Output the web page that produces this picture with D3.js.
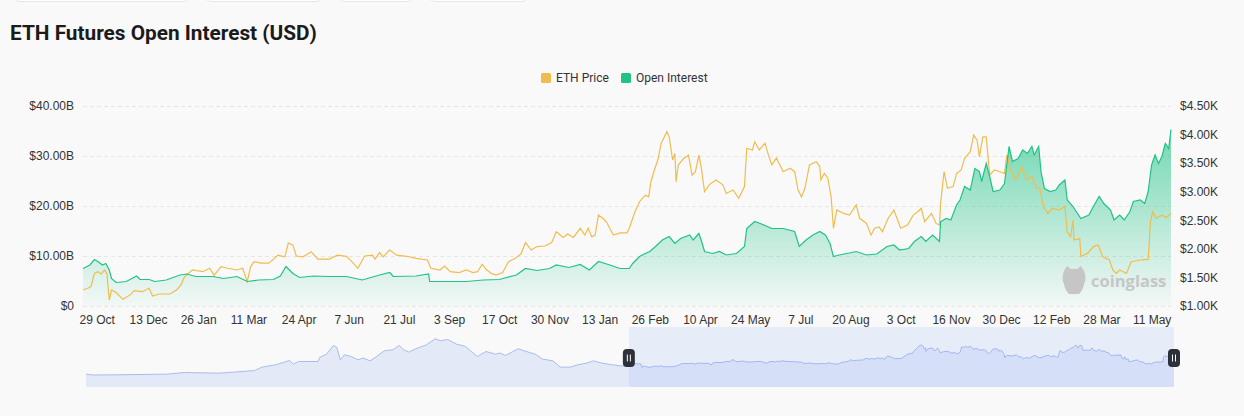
<!DOCTYPE html>
<html>
<head>
<meta charset="utf-8">
<script src="https://cdn.jsdelivr.net/npm/d3@7"></script>
<style>
  html, body { margin: 0; padding: 0; background: #f9f9f9; }
  svg { display: block; font-family: Roboto, "Noto Sans", sans-serif; }
</style>
</head>
<body>
<div id="chart"></div>
<script>
// ETH price (USD)
const ethPrice = [
  ["2022-10-17",1280],["2022-10-21",1310],["2022-10-24",1340],["2022-10-27",1570],["2022-10-30",1600],
  ["2022-11-02",1560],["2022-11-05",1630],["2022-11-07",1560],["2022-11-09",1105],["2022-11-11",1280],
  ["2022-11-15",1235],["2022-11-21",1117],["2022-11-27",1190],["2022-12-01",1270],["2022-12-08",1250],
  ["2022-12-14",1310],["2022-12-17",1175],["2022-12-23",1210],["2023-01-01",1210],["2023-01-07",1280],
  ["2023-01-11",1370],["2023-01-14",1510],["2023-01-18",1580],["2023-01-21",1630],["2023-01-30",1600],
  ["2023-02-05",1660],["2023-02-09",1540],["2023-02-15",1690],["2023-02-21",1660],["2023-03-01",1630],
  ["2023-03-06",1660],["2023-03-10",1425],["2023-03-13",1690],["2023-03-16",1775],["2023-03-22",1750],
  ["2023-03-29",1750],["2023-04-06",1890],["2023-04-12",1860],["2023-04-15",2100],["2023-04-19",2070],
  ["2023-04-22",1875],["2023-04-28",1860],["2023-05-05",1950],["2023-05-11",1820],["2023-05-21",1820],
  ["2023-05-28",1890],["2023-06-05",1870],["2023-06-11",1750],["2023-06-15",1660],["2023-06-21",1875],
  ["2023-06-28",1890],["2023-06-30",1820],["2023-07-04",1935],["2023-07-07",1860],["2023-07-13",1980],
  ["2023-07-19",1890],["2023-07-28",1870],["2023-08-05",1835],["2023-08-15",1805],["2023-08-18",1660],
  ["2023-08-26",1630],["2023-08-30",1700],["2023-09-04",1600],["2023-09-12",1585],["2023-09-18",1630],
  ["2023-09-24",1585],["2023-09-28",1600],["2023-10-02",1730],["2023-10-06",1630],["2023-10-10",1570],
  ["2023-10-14",1540],["2023-10-20",1585],["2023-10-25",1775],["2023-10-31",1835],["2023-11-05",1910],
  ["2023-11-09",2110],["2023-11-14",1980],["2023-11-19",2040],["2023-11-26",2050],["2023-12-02",2110],
  ["2023-12-06",2300],["2023-12-12",2200],["2023-12-16",2260],["2023-12-21",2200],["2023-12-27",2360],
  ["2023-12-31",2240],["2024-01-03",2360],["2024-01-06",2210],["2024-01-09",2240],["2024-01-12",2590],
  ["2024-01-16",2530],["2024-01-19",2470],["2024-01-25",2240],["2024-01-31",2280],["2024-02-06",2280],
  ["2024-02-08",2360],["2024-02-13",2650],["2024-02-17",2825],["2024-02-22",2940],["2024-02-25",2910],
  ["2024-02-27",3175],["2024-03-01",3380],["2024-03-04",3555],["2024-03-07",3850],["2024-03-12",4050],
  ["2024-03-14",3960],["2024-03-17",3555],["2024-03-19",3670],["2024-03-20",3175],["2024-03-22",3470],
  ["2024-03-27",3590],["2024-03-31",3640],["2024-04-03",3290],["2024-04-06",3350],["2024-04-09",3640],
  ["2024-04-11",3440],["2024-04-14",3000],["2024-04-18",3120],["2024-04-24",3205],["2024-04-30",3120],
  ["2024-05-03",2970],["2024-05-09",3030],["2024-05-14",2885],["2024-05-19",3090],["2024-05-21",3760],
  ["2024-05-26",3730],["2024-05-28",3875],["2024-06-01",3730],["2024-06-06",3850],["2024-06-09",3640],
  ["2024-06-12",3470],["2024-06-16",3590],["2024-06-22",3350],["2024-06-28",3410],["2024-07-02",3350],
  ["2024-07-05",3030],["2024-07-08",2910],["2024-07-11",3060],["2024-07-15",3470],["2024-07-21",3525],
  ["2024-07-24",3440],["2024-07-25",3205],["2024-07-28",3320],["2024-07-31",3240],["2024-08-03",2910],
  ["2024-08-05",2360],["2024-08-08",2680],["2024-08-14",2620],["2024-08-19",2590],["2024-08-25",2770],
  ["2024-08-28",2535],["2024-09-03",2445],["2024-09-07",2240],["2024-09-10",2360],["2024-09-14",2385],
  ["2024-09-17",2300],["2024-09-22",2535],["2024-09-27",2680],["2024-10-03",2360],["2024-10-09",2415],
  ["2024-10-14",2590],["2024-10-18",2650],["2024-10-21",2710],["2024-10-24",2475],["2024-10-30",2620],
  ["2024-11-03",2445],["2024-11-06",2415],["2024-11-07",2800],["2024-11-10",3350],["2024-11-13",3060],
  ["2024-11-18",3090],["2024-11-21",3320],["2024-11-25",3380],["2024-11-28",3585],["2024-12-03",3700],
  ["2024-12-06",3990],["2024-12-09",3900],["2024-12-11",3610],["2024-12-14",3960],["2024-12-17",3960],
  ["2024-12-20",3290],["2024-12-24",3380],["2024-12-29",3350],["2025-01-02",3320],["2025-01-04",3640],
  ["2025-01-08",3350],["2025-01-12",3205],["2025-01-17",3440],["2025-01-21",3205],["2025-01-26",3265],
  ["2025-01-30",3060],["2025-02-02",3060],["2025-02-05",2740],["2025-02-09",2620],["2025-02-13",2710],
  ["2025-02-19",2680],["2025-02-24",2740],["2025-02-26",2300],["2025-03-01",2210],["2025-03-03",2500],
  ["2025-03-04",2155],["2025-03-09",2180],["2025-03-10",1865],["2025-03-16",1925],["2025-03-21",2040],
  ["2025-03-25",2070],["2025-03-29",1865],["2025-04-04",1805],["2025-04-07",1630],["2025-04-10",1570],
  ["2025-04-13",1630],["2025-04-19",1570],["2025-04-23",1775],["2025-05-01",1805],["2025-05-08",1815],
  ["2025-05-10",2475],["2025-05-12",2650],["2025-05-15",2535],["2025-05-20",2590],["2025-05-24",2550],
  ["2025-05-28",2620]
];

// open interest, billions USD
const openInterest = [
  ["2022-10-17",7.5],["2022-10-23",8.2],["2022-10-27",9.3],["2022-10-30",8.9],["2022-11-03",8.2],
  ["2022-11-06",8.5],["2022-11-09",7.2],["2022-11-11",5.5],["2022-11-15",4.7],["2022-11-24",4.9],
  ["2022-12-03",6.0],["2022-12-06",5.3],["2022-12-14",5.3],["2022-12-19",4.9],["2022-12-29",5.2],
  ["2023-01-10",6.2],["2023-01-16",6.4],["2023-01-24",5.9],["2023-02-08",5.9],["2023-02-17",5.5],
  ["2023-03-01",5.9],["2023-03-10",4.9],["2023-03-20",5.2],["2023-04-02",5.3],["2023-04-08",6.0],
  ["2023-04-13",7.9],["2023-04-19",6.5],["2023-04-25",5.7],["2023-05-07",6.0],["2023-05-21",5.9],
  ["2023-06-05",5.9],["2023-06-19",5.2],["2023-07-04",6.2],["2023-07-13",6.7],["2023-07-16",5.9],
  ["2023-08-05",6.0],["2023-08-16",6.4],["2023-08-17",4.9],["2023-09-04",4.9],["2023-09-18",4.9],
  ["2023-10-03",5.2],["2023-10-17",5.3],["2023-11-01",6.2],["2023-11-09",7.5],["2023-11-19",7.1],
  ["2023-11-30",7.5],["2023-12-06",8.2],["2023-12-17",7.7],["2023-12-27",8.3],["2024-01-04",7.2],
  ["2024-01-12",8.9],["2024-01-22",8.2],["2024-01-31",7.5],["2024-02-08",7.5],["2024-02-11",8.5],
  ["2024-02-17",9.9],["2024-02-22",10.5],["2024-02-26",10.9],["2024-03-02",11.9],["2024-03-08",13.2],
  ["2024-03-14",13.9],["2024-03-19",12.5],["2024-03-24",13.5],["2024-04-01",14.2],["2024-04-04",13.2],
  ["2024-04-09",14.5],["2024-04-11",13.2],["2024-04-14",10.9],["2024-04-21",10.5],["2024-04-27",10.9],
  ["2024-05-03",10.2],["2024-05-12",10.5],["2024-05-19",11.9],["2024-05-21",15.5],["2024-05-28",16.9],
  ["2024-06-03",16.4],["2024-06-12",15.5],["2024-06-22",15.5],["2024-07-02",14.9],["2024-07-06",11.9],
  ["2024-07-12",13.2],["2024-07-18",14.2],["2024-07-24",14.9],["2024-07-29",14.2],["2024-08-02",12.5],
  ["2024-08-05",9.9],["2024-08-10",10.2],["2024-08-19",10.6],["2024-08-25",10.9],["2024-09-03",10.2],
  ["2024-09-12",10.4],["2024-09-21",11.9],["2024-09-27",12.2],["2024-10-02",11.2],["2024-10-10",11.5],
  ["2024-10-15",12.9],["2024-10-21",13.9],["2024-10-25",12.9],["2024-10-31",14.2],["2024-11-06",12.9],
  ["2024-11-07",16.9],["2024-11-12",17.5],["2024-11-16",17.2],["2024-11-21",20.2],["2024-11-24",21.2],
  ["2024-11-28",23.9],["2024-12-03",23.2],["2024-12-07",27.5],["2024-12-11",26.9],["2024-12-13",24.9],
  ["2024-12-17",28.5],["2024-12-20",25.9],["2024-12-23",22.9],["2024-12-29",23.2],["2025-01-02",24.5],
  ["2025-01-04",28.2],["2025-01-06",31.9],["2025-01-09",28.9],["2025-01-14",29.5],["2025-01-18",31.2],
  ["2025-01-22",30.5],["2025-01-26",31.9],["2025-01-28",30.2],["2025-02-01",31.9],["2025-02-03",26.9],
  ["2025-02-06",23.5],["2025-02-11",22.9],["2025-02-16",23.2],["2025-02-19",24.2],["2025-02-24",25.2],
  ["2025-02-26",21.2],["2025-03-03",19.9],["2025-03-05",19.2],["2025-03-10",17.5],["2025-03-17",18.2],
  ["2025-03-21",19.9],["2025-03-26",21.9],["2025-03-30",20.5],["2025-04-05",19.2],["2025-04-08",17.2],
  ["2025-04-13",18.2],["2025-04-17",17.2],["2025-04-22",18.9],["2025-04-25",20.9],["2025-05-01",21.2],
  ["2025-05-05",20.5],["2025-05-08",22.9],["2025-05-11",28.2],["2025-05-14",30.2],["2025-05-17",28.5],
  ["2025-05-20",29.9],["2025-05-23",32.5],["2025-05-26",31.5],["2025-05-28",35.3]
];

// earlier price history only shown in the zoom slider
const priceHistory = [
  ["2020-03-11",240],["2020-03-23",130],["2020-04-29",150],["2020-07-30",240],["2020-08-30",450],
  ["2020-10-30",370],["2020-12-01",540],["2020-12-31",710],["2021-01-13",1150],["2021-02-06",1450],
  ["2021-03-02",2010],["2021-03-09",1540],["2021-03-18",1880],["2021-04-21",1880],["2021-04-24",2400],
  ["2021-05-06",2840],["2021-05-18",3960],["2021-05-24",3700],["2021-05-30",2100],["2021-06-06",2750],
  ["2021-06-18",2530],["2021-06-30",2100],["2021-07-09",2320],["2021-07-21",1970],["2021-07-30",2400],
  ["2021-08-15",3270],["2021-08-30",3400],["2021-09-10",3960],["2021-09-18",3400],["2021-09-27",3100],
  ["2021-10-09",3530],["2021-10-28",4050],["2021-11-12",4830],["2021-11-21",4570],["2021-12-04",4740],
  ["2021-12-19",4140],["2022-01-04",3830],["2022-01-13",3270],["2022-01-25",2530],["2022-02-09",3180],
  ["2022-02-25",2840],["2022-03-06",2970],["2022-03-15",2660],["2022-04-06",3530],["2022-04-24",3100],
  ["2022-05-06",2840],["2022-05-19",2190],["2022-06-06",1970],["2022-06-19",1150],["2022-07-07",1150],
  ["2022-07-19",1450],["2022-08-04",1670],["2022-08-16",1970],["2022-08-31",1670],["2022-09-19",1450],
  ["2022-10-01",1320]
];

const xTickDates = ["2022-10-29","2022-12-13","2023-01-26","2023-03-11","2023-04-24","2023-06-07",
  "2023-07-21","2023-09-03","2023-10-17","2023-11-30","2024-01-13","2024-02-26","2024-04-10",
  "2024-05-24","2024-07-07","2024-08-20","2024-10-03","2024-11-16","2024-12-30","2025-02-12",
  "2025-03-28","2025-05-11"];
const oiTicks = [0, 10, 20, 30, 40];
const priceTicks = [1000, 1500, 2000, 2500, 3000, 3500, 4000, 4500];
const seriesNames = ["ETH Price", "Open Interest"];

const width = 1244, height = 416;
const plot = { left: 83, right: 1171, top: 106, bottom: 306 };
const nav = { left: 86, right: 1174, top: 327, bottom: 387 };
const priceColor = "#efbd4e";
const oiColor = "#1fc386";

const parse = d3.timeParse("%Y-%m-%d");
const toPts = arr => arr.map(([d, v]) => ({ date: parse(d), value: v }));
const price = toPts(ethPrice);
const oi = toPts(openInterest);
const navData = toPts(priceHistory).concat(price);

const svg = d3.select("#chart").append("svg")
  .attr("width", width)
  .attr("height", height);

// leftover tab buttons at the very top
const tabs = [[14, 176], [205, 117], [338, 75], [429, 99]];
svg.append("g").selectAll("rect")
  .data(tabs)
  .join("rect")
  .attr("x", d => d[0]).attr("width", d => d[1])
  .attr("y", -20).attr("height", 21.5).attr("rx", 6)
  .attr("fill", "#fff").attr("stroke", "#e7e7e7");

svg.append("text")
  .attr("x", 10).attr("y", 40)
  .attr("font-size", 20.8).attr("font-weight", 700)
  .attr("fill", "#1b1b1b")
  .text("ETH Futures Open Interest (USD)");

let x = d3.scaleTime()
  .domain([price[0].date, price[price.length - 1].date])
  .range([plot.left, plot.right]);
let yOI = d3.scaleLinear().domain([0, 40]).range([plot.bottom, plot.top]);
let yPrice = d3.scaleLinear().domain([1000, 4500]).range([plot.bottom, plot.top]);

// dashed grid
svg.append("g")
  .attr("transform", `translate(${plot.left},0)`)
  .call(d3.axisLeft(yOI).tickValues(oiTicks).tickSize(-(plot.right - plot.left)).tickFormat(""))
  .call(g => g.select(".domain").remove())
  .call(g => g.selectAll("line").attr("stroke", "#e6e6e6").attr("stroke-dasharray", "4,3"));

svg.append("g")
  .attr("transform", `translate(${plot.left},0)`)
  .call(d3.axisLeft(yOI).tickValues(oiTicks).tickSize(0).tickPadding(9)
    .tickFormat(d => d === 0 ? "$0" : "$" + d.toFixed(2) + "B"))
  .call(g => g.select(".domain").remove())
  .call(g => g.selectAll("text").attr("font-size", 12).attr("fill", "#333").attr("font-family", null));

svg.append("g")
  .attr("transform", `translate(${plot.right},0)`)
  .call(d3.axisRight(yPrice).tickValues(priceTicks).tickSize(0).tickPadding(9)
    .tickFormat(d => "$" + (d / 1000).toFixed(2) + "K"))
  .call(g => g.select(".domain").remove())
  .call(g => g.selectAll("text").attr("font-size", 12).attr("fill", "#333").attr("font-family", null));

svg.append("g")
  .attr("transform", `translate(0,${plot.bottom})`)
  .call(d3.axisBottom(x).tickValues(xTickDates.map(parse)).tickSize(0).tickPadding(9)
    .tickFormat(d3.timeFormat("%-d %b")))
  .call(g => g.select(".domain").remove())
  .call(g => g.selectAll("text").attr("font-size", 12).attr("fill", "#333").attr("font-family", null));

// gradient for the open interest area
const defs = svg.append("defs");
const grad = defs.append("linearGradient")
  .attr("id", "oiFill")
  .attr("gradientUnits", "userSpaceOnUse")
  .attr("x1", 0).attr("x2", 0)
  .attr("y1", yOI(d3.max(oi, d => d.value))).attr("y2", yOI(0));
grad.append("stop").attr("offset", 0).attr("stop-color", oiColor).attr("stop-opacity", 0.62);
grad.append("stop").attr("offset", 1).attr("stop-color", oiColor).attr("stop-opacity", 0.03);

svg.append("path")
  .datum(oi)
  .attr("fill", "url(#oiFill)")
  .attr("d", d3.area().x(d => x(d.date)).y0(yOI(0)).y1(d => yOI(d.value)));

svg.append("path")
  .datum(price)
  .attr("fill", "none")
  .attr("stroke", priceColor)
  .attr("stroke-width", 1.2)
  .attr("d", d3.line().x(d => x(d.date)).y(d => yPrice(d.value)));

svg.append("path")
  .datum(oi)
  .attr("fill", "none")
  .attr("stroke", oiColor)
  .attr("stroke-width", 1.2)
  .attr("d", d3.line().x(d => x(d.date)).y(d => yOI(d.value)));

// legend
const legend = svg.append("g").attr("transform", "translate(541,78)");
const legendX = [0, 80];
seriesNames.forEach((name, i) => {
  legend.append("rect")
    .attr("x", legendX[i]).attr("y", -5).attr("width", 10).attr("height", 10).attr("rx", 1.5)
    .attr("fill", i === 0 ? priceColor : oiColor);
  legend.append("text")
    .attr("x", legendX[i] + 15).attr("y", 0).attr("dy", "0.35em")
    .attr("font-size", 12).attr("fill", "#333")
    .text(name);
});

// watermark
const wm = svg.append("g").attr("fill", "#c6c6c6");
wm.append("path")
  .attr("d", "M1064,271 l3,-5 l4,3 h6 l4,-3 l3,5 q3,7 0,13 q-1,6 -5,10 h-10 q-4,-4 -5,-10 q-3,-6 0,-13 z");
wm.append("text")
  .attr("x", 1091).attr("y", 287)
  .attr("font-size", 16.5).attr("font-weight", 700)
  .attr("font-family", "'Open Sans', sans-serif")
  .text("coinglass");

// zoom slider
let navX = d3.scaleTime()
  .domain([navData[0].date, price[price.length - 1].date])
  .range([nav.left, nav.right]);
let navY = d3.scaleLinear().domain([0, 4800]).range([376, 339]);

const navArea = d3.area().x(d => navX(d.date)).y0(nav.bottom).y1(d => navY(d.value));
const navLine = d3.line().x(d => navX(d.date)).y(d => navY(d.value));

svg.append("path").datum(navData).attr("fill", "#e3e9f6").attr("d", navArea);
svg.append("path").datum(navData).attr("fill", "none").attr("stroke", "#a9bdec").attr("d", navLine);

const selX0 = navX(price[0].date), selX1 = navX(price[price.length - 1].date);
defs.append("clipPath").attr("id", "sel")
  .append("rect").attr("x", selX0).attr("y", nav.top).attr("width", selX1 - selX0).attr("height", nav.bottom - nav.top);

svg.append("rect")
  .attr("x", selX0).attr("y", nav.top)
  .attr("width", selX1 - selX0).attr("height", nav.bottom - nav.top)
  .attr("fill", "#e7ecf9");

const selG = svg.append("g").attr("clip-path", "url(#sel)");
selG.append("path").datum(navData).attr("fill", "#d5dff8").attr("d", navArea);
selG.append("path").datum(navData).attr("fill", "none").attr("stroke", "#9fb7f1").attr("d", navLine);

[selX0, selX1].forEach(hx => {
  const h = svg.append("g").attr("transform", `translate(${hx},358)`);
  h.append("rect").attr("x", -6).attr("y", -9).attr("width", 12).attr("height", 18).attr("rx", 4)
    .attr("fill", "#2e313b");
  [-1.5, 1.5].forEach(dx => h.append("line")
    .attr("x1", dx).attr("x2", dx).attr("y1", -3.5).attr("y2", 3.5)
    .attr("stroke", "#fff").attr("stroke-width", 1));
});
</script>
</body>
</html>
